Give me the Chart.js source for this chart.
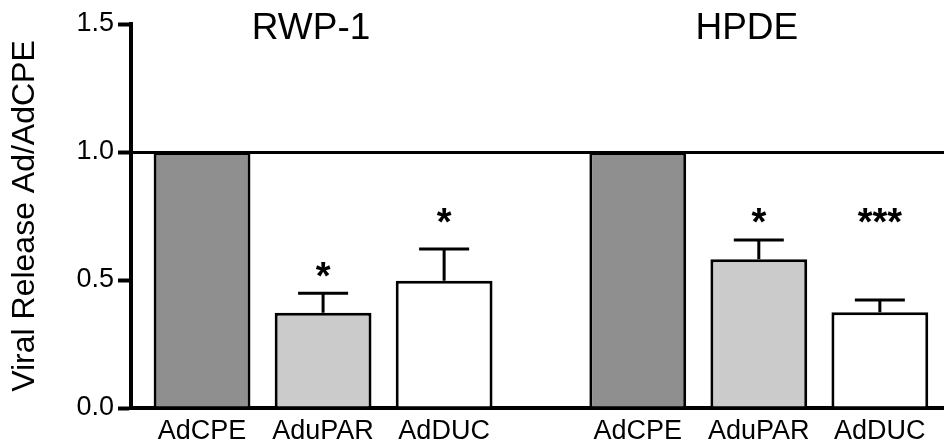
<!DOCTYPE html>
<html>
<head>
<meta charset="utf-8">
<script src="https://cdn.jsdelivr.net/npm/chart.js@4.4.0/dist/chart.umd.min.js"></script>
<style>
  body { margin: 0; background: #fff; }
  #wrap { width: 944px; height: 448px; }
</style>
</head>
<body>
<div id="wrap"><canvas id="myChart"></canvas></div>
<script>
const groups = ['RWP-1', 'HPDE'];
const vectors = ['AdCPE', 'AduPAR', 'AdDUC'];
const release = [1.0, 0.372, 0.497, 1.0, 0.581, 0.374];
const sem = [0, 0.076, 0.124, 0, 0.075, 0.048];
const stars = ['', '*', '*', '', '*', '***'];
const starLevel = [null, 0.543, 0.752, null, 0.752, 0.752];
const yTicks = [0, 0.5, 1.0, 1.5];

const groupGap = 0.6;
const xPos = [];
const labels = [];
groups.forEach((g, gi) => {
    vectors.forEach((v, vi) => {
        xPos.push(gi * (vectors.length + groupGap) + vi);
        labels.push(v);
    });
});

const fills = ['#8f8f8f', '#cbcbcb', '#ffffff'];
const font = 'Liberation Sans, Arial, Helvetica, sans-serif';

const extras = {
    id: 'extras',
    afterDatasetsDraw(chart) {
        const ctx = chart.ctx;
        const ys = chart.scales.y;
        const xs = chart.scales.x;
        const bars = chart.getDatasetMeta(0).data;
        ctx.save();
        ctx.strokeStyle = '#000';
        ctx.lineWidth = 3;
        bars.forEach((bar, i) => {
            if (!sem[i]) return;
            const top = ys.getPixelForValue(release[i] + sem[i]);
            ctx.beginPath();
            ctx.moveTo(bar.x, bar.y);
            ctx.lineTo(bar.x, top);
            ctx.moveTo(bar.x - 25, top);
            ctx.lineTo(bar.x + 25, top);
            ctx.stroke();
        });
        ctx.fillStyle = '#000';
        ctx.textAlign = 'center';
        ctx.textBaseline = 'alphabetic';
        ctx.font = 'bold 38px ' + font;
        bars.forEach((bar, i) => {
            if (!stars[i]) return;
            ctx.fillText(stars[i], bar.x, ys.getPixelForValue(starLevel[i]) + 20);
        });
        // group titles
        ctx.font = '37px ' + font;
        ctx.textBaseline = 'middle';
        groups.forEach((g, gi) => {
            const c = gi * (vectors.length + groupGap) + (vectors.length - 1) / 2;
            ctx.fillText(g, xs.getPixelForValue(c) - 12, 29);
        });
        ctx.restore();
    }
};

const config = {
    type: 'bar',
    data: {
        datasets: [{
            data: xPos.map((x, i) => ({ x: x, y: release[i] })),
            backgroundColor: xPos.map((x, i) => fills[i % vectors.length]),
            borderColor: '#000',
            borderWidth: 3,
            barPercentage: 1,
            categoryPercentage: 0.8
        }]
    },
    options: {
        responsive: true,
        maintainAspectRatio: false,
        animation: false,
        layout: { padding: { top: 24, right: 0, bottom: 0, left: 0 } },
        plugins: {
            legend: { display: false },
            tooltip: { enabled: false }
        },
        scales: {
            x: {
                type: 'linear',
                offset: false,
                min: -0.587,
                max: 6.13,
                afterBuildTicks: s => { s.ticks = xPos.map(v => ({ value: v })); },
                afterFit: s => { s.height = 40; },
                grid: { display: false, drawTicks: false },
                border: { display: true, color: '#000', width: 4 },
                ticks: {
                    autoSkip: false,
                    maxRotation: 0,
                    padding: 7,
                    color: '#000',
                    font: { family: font, size: 27 },
                    callback: (v, i) => labels[i]
                }
            },
            y: {
                min: 0,
                max: 1.5,
                afterBuildTicks: s => { s.ticks = yTicks.map(v => ({ value: v })); },
                afterFit: s => { s.width = 131; },
                grid: {
                    color: c => (c.tick && c.tick.value === 1) ? '#000' : 'rgba(0,0,0,0)',
                    lineWidth: 3,
                    tickColor: '#000',
                    tickWidth: 4,
                    tickLength: 13
                },
                border: { display: true, color: '#000', width: 4 },
                ticks: {
                    padding: 4,
                    color: '#000',
                    font: { family: font, size: 27 },
                    callback: v => v.toFixed(1)
                },
                title: {
                    display: true,
                    text: 'Viral Release Ad/AdCPE',
                    color: '#000',
                    font: { family: font, size: 32 },
                    padding: { top: 6, bottom: 4 }
                }
            }
        }
    },
    plugins: [extras]
};

const myChart = new Chart(document.getElementById('myChart'), config);
</script>
</body>
</html>
